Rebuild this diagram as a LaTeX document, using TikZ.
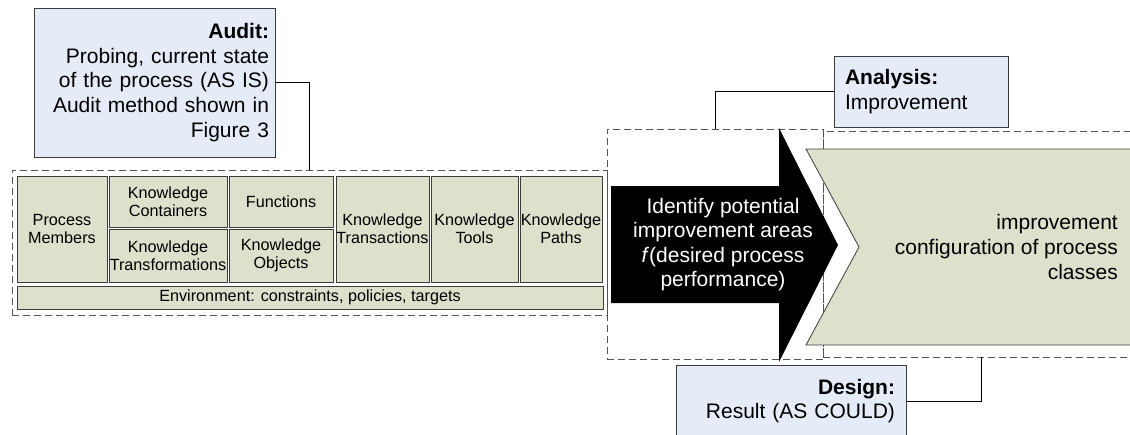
\documentclass[tikz,border=0pt]{standalone}
\usepackage{fontspec}
\setmainfont{Liberation Sans}
\definecolor{boxblue}{RGB}{230,236,247}
\definecolor{boxgreen}{RGB}{221,224,203}
\definecolor{dashgray}{RGB}{85,85,85}
\definecolor{edgegray}{RGB}{60,60,60}
\begin{document}
\begin{tikzpicture}[x=1pt,y=-1pt,
  bigfont/.style={font=\fontsize{21}{24.6}\selectfont},
  smallfont/.style={font=\fontsize{16.2}{17.8}\selectfont},
  notebox/.style={draw=edgegray,line width=0.8pt,fill=boxblue,bigfont,inner sep=0pt},
  cellbox/.style={draw=edgegray,line width=0.8pt,fill=boxgreen,smallfont,align=center,inner sep=0pt},
  zone/.style={draw=dashgray,line width=0.8pt,dash pattern=on 7pt off 4pt,inner sep=0pt},
  link/.style={draw=black,line width=0.7pt}]
\path[use as bounding box,clip] (0,0) rectangle (1130,434);
% dashed zones
\node[zone,minimum width=595pt,minimum height=145pt] (asis) at (309.5,242.5) {};
\node[zone,minimum width=216pt,minimum height=230pt] (mid) at (715,244) {};
\node[zone,minimum width=316pt,minimum height=226pt] (could) at (981,244) {};
% audit note
\node[notebox,minimum width=241pt,minimum height=149pt,text width=229pt,align=right] (audit) at (154.5,82.5)
  {\textbf{Audit:}\\Probing, current state\\of the process (AS IS)\\Audit method shown in\\Figure 3};
% cells
\node[cellbox,minimum width=90pt,minimum height=106pt] (pm) at (62,229) {Process\\Members};
\node[cellbox,minimum width=118pt,minimum height=51pt] (kc) at (168,201.5) {Knowledge\\Containers};
\node[cellbox,minimum width=118pt,minimum height=53pt] (ktf) at (168,255.5) {Knowledge\\Transformations};
\node[cellbox,minimum width=104pt,minimum height=51pt] (fn) at (281,201.5) {Functions};
\node[cellbox,minimum width=104pt,minimum height=53pt] (ko) at (281,255.5) {Knowledge\\Objects};
\node[cellbox,minimum width=93pt,minimum height=106pt] (ktr) at (382.5,229) {Knowledge\\Transactions};
\node[cellbox,minimum width=87pt,minimum height=106pt] (kto) at (474.5,229) {Knowledge\\Tools};
\node[cellbox,minimum width=82pt,minimum height=106pt] (kp) at (561,229) {Knowledge\\Paths};
\node[cellbox,minimum width=586pt,minimum height=23pt] (env) at (310,297.5) {Environment: constraints, policies, targets};
% black arrow
\fill[black] (611,186) -- (779,186) -- (779,128) -- (838,245) -- (779,362) -- (779,303) -- (611,303) -- cycle;
\node[bigfont,text=white,align=center,inner sep=0pt] (idtext) at (723,244.5)
  {Identify potential\\improvement areas\\\textit{f}(desired process\\performance)};
% chevron
\draw[edgegray,line width=0.8pt,fill=boxgreen] (806,149) -- (1145,149) -- (1145,345) -- (806,345) -- (859,247) -- cycle;
\node[bigfont,align=right,inner sep=0pt,anchor=east] (conftext) at (1118,247)
  {improvement\\configuration of process\\classes};
% analysis note
\node[notebox,minimum width=174pt,minimum height=71pt,text width=152pt,align=left] (analysis) at (921,91.5)
  {\textbf{Analysis:}\\Improvement};
% design note
\node[notebox,minimum width=230pt,minimum height=72pt,text width=208pt,align=right] (design) at (791,401)
  {\textbf{Design:}\\Result (AS COULD)};
% connectors
\draw[link] (audit.east) -| (asis.north);
\draw[link] (analysis.west) -| (mid.north);
\draw[link] (design.east) -| (could.south);
\end{tikzpicture}
\end{document}
